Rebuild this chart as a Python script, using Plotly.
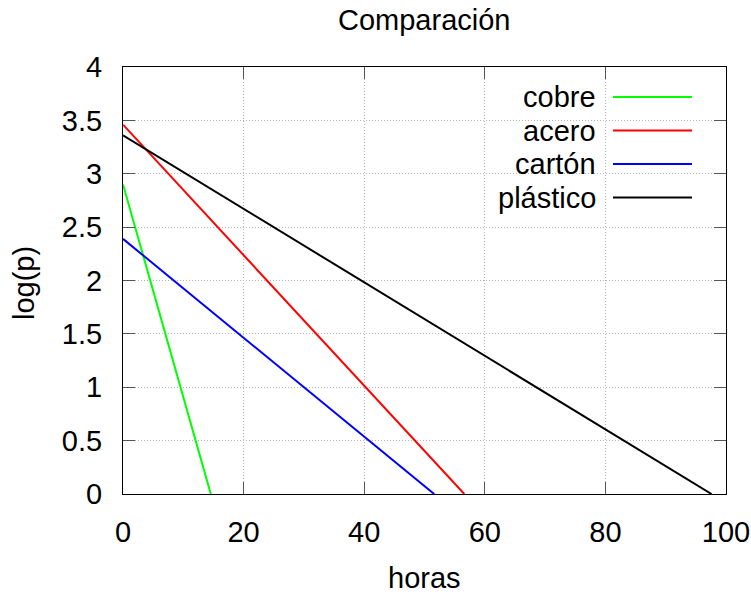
import plotly.graph_objects as go

# Data: each series is a straight line from its y-intercept to its x-intercept
series_names = ["cobre", "acero", "cartón", "plástico"]
series_colors = ["#00ff00", "#ff0000", "#0000ff", "#000000"]
horas_cobre = [0, 14.56]
logp_cobre = [2.90, 0]
horas_acero = [0, 56.6]
logp_acero = [3.46, 0]
horas_carton = [0, 51.6]
logp_carton = [2.39, 0]
horas_plastico = [0, 97.6]
logp_plastico = [3.36, 0]

xs = [horas_cobre, horas_acero, horas_carton, horas_plastico]
ys = [logp_cobre, logp_acero, logp_carton, logp_plastico]

x_ticks = [0, 20, 40, 60, 80, 100]
y_ticks = [0, 0.5, 1, 1.5, 2, 2.5, 3, 3.5, 4]
y_tick_labels = ["0", "0.5", "1", "1.5", "2", "2.5", "3", "3.5", "4"]

W, H = 751, 596
ml, mr, mt, mb = 123, 25, 67, 102
pw, ph = W - ml - mr, H - mt - mb

def px_to_paper_x(px):
    return (px - ml) / pw

def px_to_paper_y(py):
    return 1 - (py - mt) / ph

font = dict(family="Liberation Sans, Arial, sans-serif", size=29, color="black")

fig = go.Figure()
for name, col, x, y in zip(series_names, series_colors, xs, ys):
    fig.add_trace(go.Scatter(x=x, y=y, mode="lines", name=name,
                             line=dict(color=col, width=2), showlegend=False))

# Gnuplot-style legend: white box, right-aligned text, sample line to the right
shapes = [dict(type="rect", xref="paper", yref="paper",
               x0=px_to_paper_x(485), x1=px_to_paper_x(705),
               y0=px_to_paper_y(215), y1=px_to_paper_y(80),
               fillcolor="white", line=dict(width=0), layer="below")]
annotations = []
legend_y = [97, 130.5, 164, 197.5]
for name, col, ly in zip(series_names, series_colors, legend_y):
    shapes.append(dict(type="line", xref="paper", yref="paper",
                       x0=px_to_paper_x(613), x1=px_to_paper_x(692),
                       y0=px_to_paper_y(ly), y1=px_to_paper_y(ly),
                       line=dict(color=col, width=2)))
    annotations.append(dict(text=name, xref="paper", yref="paper",
                            x=px_to_paper_x(598), y=px_to_paper_y(ly),
                            xanchor="right", yanchor="middle", showarrow=False,
                            font=font))

annotations.append(dict(text="Comparación", xref="paper", yref="paper",
                        x=px_to_paper_x(424), y=px_to_paper_y(20),
                        xanchor="center", yanchor="middle", showarrow=False, font=font))
annotations.append(dict(text="horas", xref="paper", yref="paper",
                        x=px_to_paper_x(424), y=px_to_paper_y(578),
                        xanchor="center", yanchor="middle", showarrow=False, font=font))
annotations.append(dict(text="log(p)", xref="paper", yref="paper",
                        x=px_to_paper_x(24), y=px_to_paper_y(283), textangle=-90,
                        xanchor="center", yanchor="middle", showarrow=False, font=font))

axis_common = dict(showline=True, linecolor="black", linewidth=1, mirror="allticks",
                   ticks="inside", ticklen=12, tickwidth=1, tickcolor="#555555",
                   showgrid=True, gridcolor="#b4b4b4", griddash="1px,2px", gridwidth=1,
                   zeroline=False, tickfont=font)

fig.update_layout(
    width=W, height=H,
    margin=dict(l=ml, r=mr, t=mt, b=mb, autoexpand=False),
    paper_bgcolor="white", plot_bgcolor="white",
    font=font,
    xaxis=dict(range=[0, 100], tickvals=x_ticks, ticklabelstandoff=12, **axis_common),
    yaxis=dict(range=[0, 4], tickvals=y_ticks, ticktext=y_tick_labels,
               ticklabelstandoff=14, **axis_common),
    shapes=shapes, annotations=annotations, showlegend=False,
)

fig.write_html("out.html", config={"displayModeBar": False},
               post_script="document.body.style.margin='0px';")
